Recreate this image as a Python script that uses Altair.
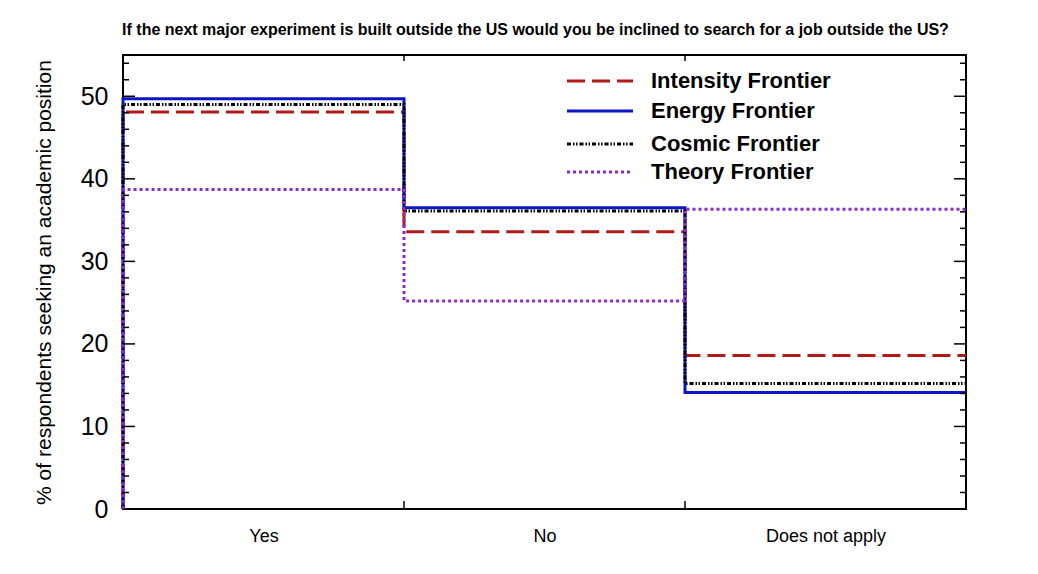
import json
import altair as alt
import pandas as pd

CATEGORIES = ["Yes", "No", "Does not apply"]
SERIES = ["Intensity Frontier", "Energy Frontier", "Cosmic Frontier", "Theory Frontier"]
INTENSITY = [48.1, 33.6, 18.6]
ENERGY = [49.7, 36.5, 14.1]
COSMIC = [49.0, 36.1, 15.2]
THEORY = [38.7, 25.2, 36.3]
COLORS = ["#b21a1a", "#0a14c8", "#000000", "#8c2bd6"]
DASHES = [[18, 7], [1, 0], [4, 2, 1.5, 1.5, 1.5, 2], [3, 3]]
Y_MAJOR = [10, 20, 30, 40, 50]
Y_MINOR = [2, 4, 6, 8, 12, 14, 16, 18, 22, 24, 26, 28, 32, 34, 36, 38,
           42, 44, 46, 48, 52, 54]
X_EDGES = [1, 2]

W, H = 843, 454
LEGEND_ROWS_PX = [26, 56, 89, 117]

rows = []
for name, vals in zip(SERIES, [INTENSITY, ENERGY, COSMIC, THEORY]):
    pts = [(0, 0)]
    for i, v in enumerate(vals):
        pts.append((i, v))
        pts.append((i + 1, v))
    for k, (x, y) in enumerate(pts):
        rows.append({"series": name, "x": x, "y": y, "order": k})
df = pd.DataFrame(rows)

color = alt.Color("series:N", scale=alt.Scale(domain=SERIES, range=COLORS), legend=None)
dash = alt.StrokeDash("series:N", scale=alt.Scale(domain=SERIES, range=DASHES), legend=None)

xscale = alt.Scale(domain=[0, 3], nice=False, zero=False)
yscale = alt.Scale(domain=[0, 55], nice=False)

label_expr = json.dumps(CATEGORIES) + "[floor(datum.value)]"

lines = alt.Chart(df).mark_line(strokeWidth=3, clip=False).encode(
    x=alt.X("x:Q", scale=xscale, axis=alt.Axis(
        values=[0.5, 1.5, 2.5], labelExpr=label_expr, title=None, domain=False,
        ticks=False, grid=False, labelFontSize=18, labelPadding=18,
        labelFont="Liberation Sans", labelColor="black")),
    y=alt.Y("y:Q", scale=yscale, axis=alt.Axis(
        values=[0, 10, 20, 30, 40, 50], title="% of respondents seeking an academic position",
        domain=False, ticks=False, grid=False, labelFontSize=25, labelPadding=15,
        labelFont="Liberation Sans", labelColor="black", titleFont="Liberation Sans",
        titleFontSize=21, titleFontWeight="normal", titleColor="black", titlePadding=26)),
    color=color,
    strokeDash=dash,
    order="order:Q",
)

def yticks(values, x0, x1):
    return alt.Chart(pd.DataFrame({"y": values})).mark_rule(color="black", strokeWidth=1.5).encode(
        y=alt.Y("y:Q", scale=yscale),
        x=alt.value(x0), x2=alt.value(x1))

def xticks(y0, y1):
    return alt.Chart(pd.DataFrame({"x": X_EDGES})).mark_rule(color="black", strokeWidth=1.5).encode(
        x=alt.X("x:Q", scale=xscale),
        y=alt.value(y0), y2=alt.value(y1))

ticks = [
    yticks(Y_MAJOR, 0, 12), yticks(Y_MINOR, 0, 6),
    yticks(Y_MAJOR, W - 12, W), yticks(Y_MINOR, W - 6, W),
    xticks(H - 8, H), xticks(0, 6),
]

legend_layers = []
for name, ypx in zip(SERIES, LEGEND_ROWS_PX):
    d = pd.DataFrame({"series": [name]})
    legend_layers.append(alt.Chart(d).mark_rule(strokeWidth=3).encode(
        x=alt.value(444), x2=alt.value(510), y=alt.value(ypx),
        color=color, strokeDash=dash))
    legend_layers.append(alt.Chart(d).mark_text(
        align="left", baseline="middle", fontSize=22, fontWeight="bold",
        font="Liberation Sans", color="black").encode(
        x=alt.value(528), y=alt.value(ypx), text="series:N"))

chart = alt.layer(lines, *ticks, *legend_layers).properties(
    width=W, height=H,
    title=alt.TitleParams(
        "If the next major experiment is built outside the US would you be inclined to search for a job outside the US?",
        font="Liberation Sans", fontSize=16, fontWeight="bold", color="black",
        anchor="middle", frame="group", offset=16, dx=-9),
    autosize=alt.AutoSizeParams(type="none"),
    padding={"left": 115, "top": 47, "right": 50, "bottom": 50},
    background="white",
).configure_view(stroke="black", strokeWidth=2)

chart.save("out.html", embed_options={"renderer": "svg", "actions": False})
